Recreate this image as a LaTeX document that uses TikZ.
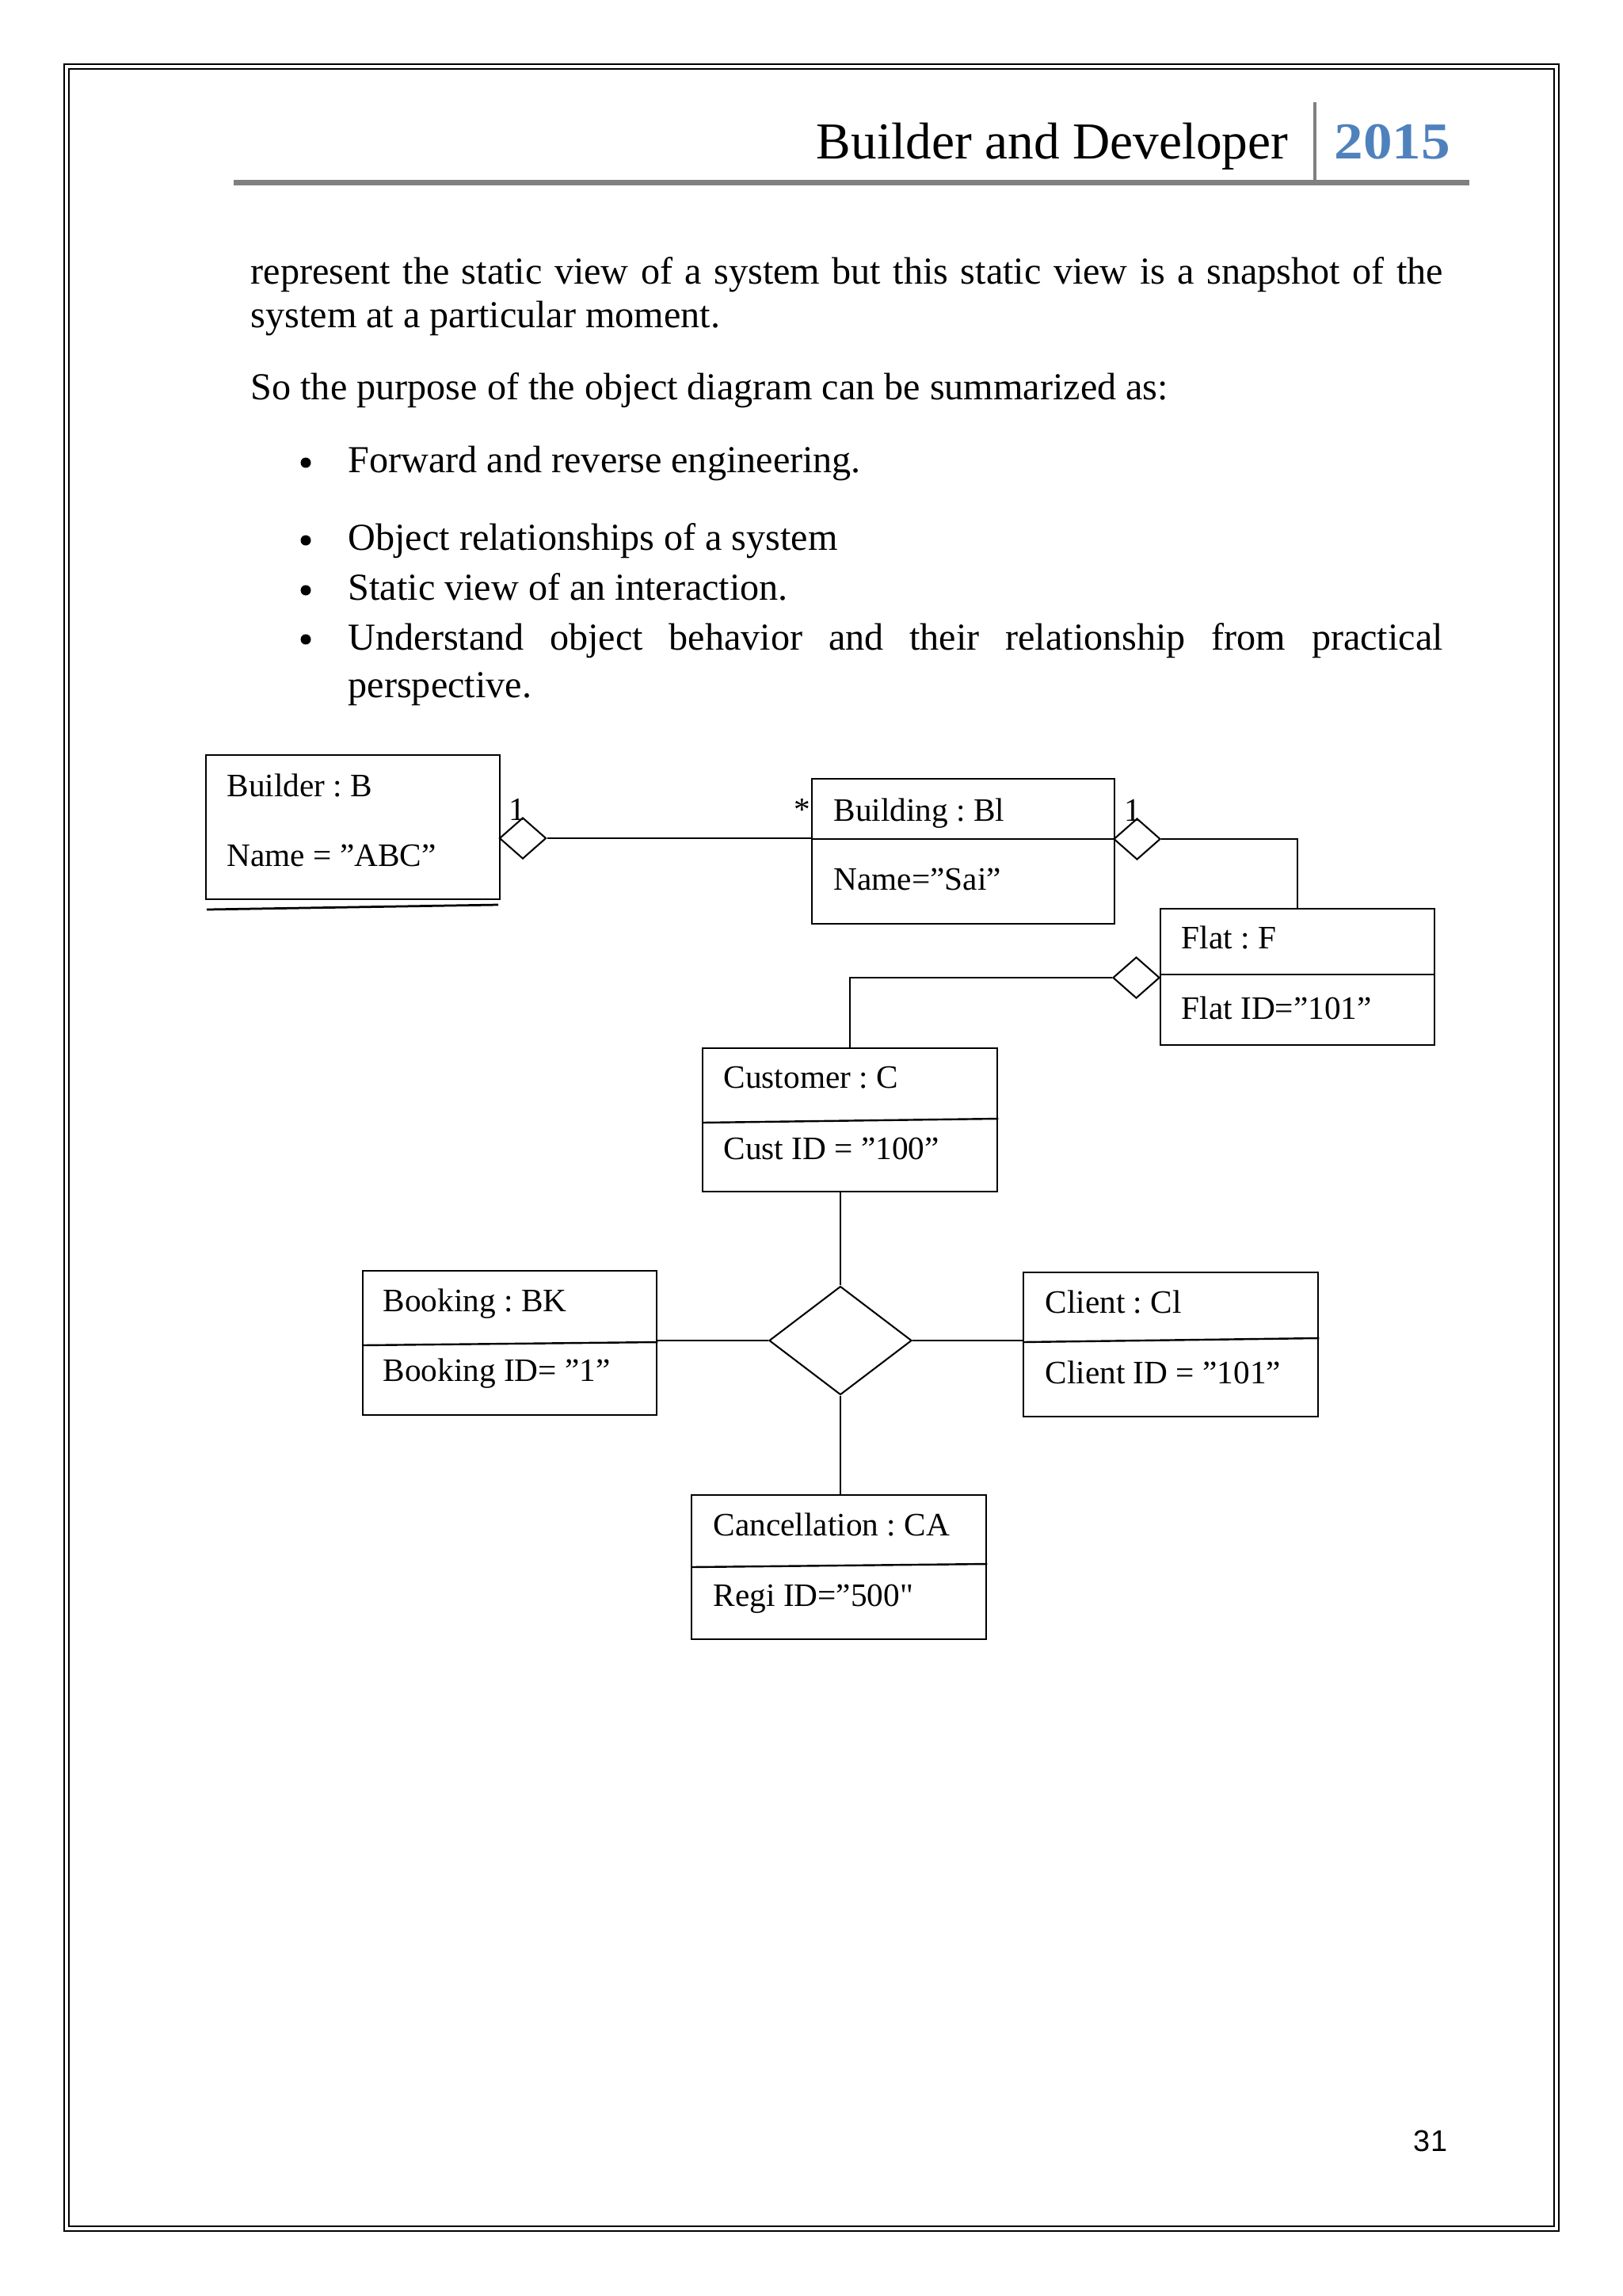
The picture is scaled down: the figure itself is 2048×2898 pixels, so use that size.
\documentclass[tikz,border=0pt]{standalone}
\usepackage{fontspec}
\setmainfont{Liberation Serif}
\newfontfamily\rawserif{Liberation Serif}[Ligatures=TeXOff]
\newfontfamily\sansf{Liberation Sans}
\usetikzlibrary{shapes.geometric}
\definecolor{hdrblue}{HTML}{4F81BD}
\definecolor{rulegray}{HTML}{808080}
\newlength\pxu
\setlength\pxu{0.29067pt}
\frenchspacing
\begin{document}
\frenchspacing
\begin{tikzpicture}[x=0.29067pt, y=-0.29067pt,
  objbox/.style={draw, line width=0.7pt, inner sep=0pt, anchor=north west},
  lbl/.style={anchor=base west, inner sep=0pt, font=\fontsize{12}{14}\selectfont},
  body/.style={anchor=base west, inner sep=0pt, font=\fontsize{14}{16}\selectfont},
  bul/.style={circle, fill, inner sep=0pt, minimum size=13\pxu},
  conn/.style={line width=0.6pt},
  divider/.style={line width=0.7pt},
  aggr/.style={diamond, draw, line width=0.6pt, inner sep=0pt, minimum width=59\pxu, minimum height=52\pxu},
]
\useasboundingbox (0,0) rectangle (2048,2898);
\fill[white] (0,0) rectangle (2048,2898);

% page border
\draw[line width=0.8pt] (81,81) rectangle (1968,2816);
\draw[line width=0.6pt] (87,87) rectangle (1962,2810);

% header
\fill[rulegray] (295,227) rectangle (1855,234);
\fill[rulegray] (1658,129) rectangle (1662,229);
\node[anchor=base east, inner sep=0pt, font=\fontsize{19}{21}\selectfont] (htitle) at (1627,200) {Builder and Developer};
\node[anchor=base west, inner sep=0pt, font=\fontsize{19}{21}\selectfont\bfseries, text=hdrblue] (hyear) at (1684,200) {\scalebox{1.12}[1]{2015}};

% body text
\node[body] (t1) at (316,358) {\makebox[437.5pt][s]{represent the static view of a system but this static view is a snapshot of the}};
\node[body] (t2) at (316,413) {system at a particular moment.};
\node[body] (t3) at (316,504) {So the purpose of the object diagram can be summarized as:};
\node[bul] (b1) at (386,584) {};
\node[body] (b1t) at (439,596) {Forward and reverse engineering.};
\node[bul] (b2) at (386,682) {};
\node[body] (b2t) at (439,694) {Object relationships of a system};
\node[bul] (b3) at (386,745) {};
\node[body] (b3t) at (439,757) {Static view of an interaction.};
\node[bul] (b4) at (386,807) {};
\node[body] (b4t) at (439,820) {\makebox[401.7pt][s]{Understand object behavior and their relationship from practical}};
\node[body] (b4u) at (439,880) {perspective.};

% object boxes
\node[objbox, minimum width=371\pxu, minimum height=182\pxu] (builder) at (259,952) {};
\node[objbox, minimum width=382\pxu, minimum height=183\pxu] (bld) at (1024,982) {};
\node[objbox, minimum width=346\pxu, minimum height=172\pxu] (flat) at (1464,1146) {};
\node[objbox, minimum width=372\pxu, minimum height=181\pxu] (cust) at (886,1322) {};
\node[objbox, minimum width=371\pxu, minimum height=182\pxu] (bk) at (457,1603) {};
\node[objbox, minimum width=372\pxu, minimum height=182\pxu] (cl) at (1291,1605) {};
\node[objbox, minimum width=372\pxu, minimum height=182\pxu] (canc) at (872,1886) {};

% dividers
\draw[divider] (bld.west |- 0,1059) -- (bld.east |- 0,1059);
\draw[divider] (flat.west |- 0,1230) -- (flat.east |- 0,1230);
\draw[divider] (cust.west |- 0,1417) -- (cust.east |- 0,1412);
\draw[divider] (bk.west |- 0,1698) -- (bk.east |- 0,1694);
\draw[divider] (cl.west |- 0,1694) -- (cl.east |- 0,1689);
\draw[divider] (canc.west |- 0,1978) -- (canc.east |- 0,1974);

% underline below builder
\draw[line width=0.8pt] (261,1148) -- (629,1142);

% texts in boxes
\node[lbl] (builderA) at (286,1005) {Builder : B};
\node[lbl] (builderB) at (286,1093) {Name = ”ABC”};
\node[lbl] (bldA) at (1052,1036) {Building : Bl};
\node[lbl] (bldB) at (1052,1123) {Name=”Sai”};
\node[lbl] (flatA) at (1491,1197) {Flat : F};
\node[lbl] (flatB) at (1491,1286) {Flat ID=”101”};
\node[lbl] (custA) at (913,1373) {Customer : C};
\node[lbl] (custB) at (913,1463) {Cust ID = ”100”};
\node[lbl] (bkA) at (483,1655) {Booking : BK};
\node[lbl] (bkB) at (483,1743) {Booking ID= ”1”};
\node[lbl] (clA) at (1319,1657) {Client : Cl};
\node[lbl] (clB) at (1319,1746) {Client ID = ”101”};
\node[lbl] (cancA) at (900,1938) {Cancellation : CA};
\node[lbl] (cancB) at (900,2027) {Regi ID=”500{\rawserif"}};

% aggregation diamonds
\node[aggr] (d1) at (660,1058) {};
\node[aggr] (d2) at (1435.5,1059) {};
\node[aggr] (d3) at (1434.5,1234) {};
\node[diamond, draw, line width=0.6pt, inner sep=0pt, minimum width=180\pxu, minimum height=137\pxu] (dc) at (1061,1692) {};

% multiplicities
\node[lbl] (m1) at (642,1035) {1};
\node[lbl] (m2) at (1002,1035) {*};
\node[lbl] (m3) at (1419,1036) {1};

% connectors
\draw[conn] (d1.east) -- (d1.east -| bld.west);
\draw[conn] (d2.east) -| (flat.north);
\draw[conn] (d3.west) -| (cust.north);
\draw[conn] (cust.south -| dc.north) -- (dc.north);
\draw[conn] (dc.south) -- (dc.south |- canc.north);
\draw[conn] (bk.east |- dc.west) -- (dc.west);
\draw[conn] (dc.east) -- (dc.east -| cl.west);

% page number
\node[anchor=center, inner sep=0pt, font=\sansf\fontsize{11}{13}\selectfont] (pnum) at (1806,2702) {31};
\end{tikzpicture}
\end{document}
